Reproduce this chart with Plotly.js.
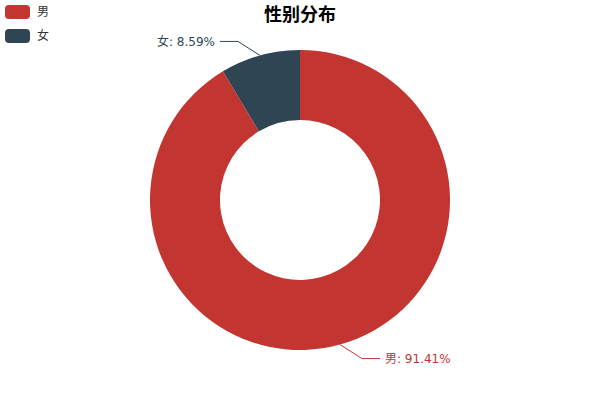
<!DOCTYPE html>
<html>
<head>
<meta charset="utf-8">
<script src="https://cdn.plot.ly/plotly-3.0.1.min.js"></script>
<style>
  body { margin: 0; }
  #chart { width: 600px; height: 400px; }
</style>
</head>
<body>
<div id="chart"></div>
<script>
// Data
var labels = ["男", "女"];
var values = [91.41, 8.59];
var colors = ["#c23531", "#2f4554"];
var labelColors = ["#c23531", "#2f4554"];
var chartTitle = "性别分布";

var W = 600, H = 400;
var cx = 300, cy = 200, rOuter = 150, rInner = 80;
var font = "'DejaVu Sans', 'Noto Sans CJK SC', sans-serif";

// pixel -> paper (margins are 0)
function px(x) { return x / W; }
function py(y) { return 1 - y / H; }

var shapes = [];
var annotations = [];

// legend drawn by hand to get the rounded icons
function roundRect(x, y, w, h, r) {
    return "M" + px(x + r) + "," + py(y) +
        " L" + px(x + w - r) + "," + py(y) +
        " Q" + px(x + w) + "," + py(y) + " " + px(x + w) + "," + py(y + r) +
        " L" + px(x + w) + "," + py(y + h - r) +
        " Q" + px(x + w) + "," + py(y + h) + " " + px(x + w - r) + "," + py(y + h) +
        " L" + px(x + r) + "," + py(y + h) +
        " Q" + px(x) + "," + py(y + h) + " " + px(x) + "," + py(y + h - r) +
        " L" + px(x) + "," + py(y + r) +
        " Q" + px(x) + "," + py(y) + " " + px(x + r) + "," + py(y) + " Z";
}
for (var i = 0; i < labels.length; i++) {
    var itemTop = 5 + i * 24;
    shapes.push({
        type: "path", xref: "paper", yref: "paper",
        path: roundRect(5, itemTop, 25, 14, 4),
        fillcolor: colors[i], line: { width: 0 }
    });
    annotations.push({
        xref: "paper", yref: "paper", x: px(35), y: py(itemTop + 7),
        xanchor: "left", yanchor: "middle", showarrow: false,
        text: labels[i], font: { family: font, size: 12, color: "#333" }
    });
}

// outside labels with elbow lines, placed from the slice mid angles
var total = values.reduce(function (a, b) { return a + b; }, 0);
var acc = 0;
for (var i = 0; i < values.length; i++) {
    var mid = (acc + values[i] / 2) / total * 2 * Math.PI;
    acc += values[i];
    var dx = Math.sin(mid), dy = -Math.cos(mid);
    var ex = cx + rOuter * dx, ey = cy + rOuter * dy;
    var sx = dx < 0 ? -1 : 1, sy = dy < 0 ? -1 : 1;
    var kx = ex + sx * 22, ky = ey + sy * 14;
    var lx = kx + sx * 18;
    shapes.push({
        type: "path", xref: "paper", yref: "paper",
        path: "M" + px(ex) + "," + py(ey) + " L" + px(kx) + "," + py(ky) + " L" + px(lx) + "," + py(ky),
        line: { color: colors[i], width: 1 }
    });
    var pct = (values[i] / total * 100).toFixed(2) + "%";
    annotations.push({
        xref: "paper", yref: "paper", x: px(lx + sx * 3), y: py(ky),
        xanchor: sx < 0 ? "right" : "left", yanchor: "middle", showarrow: false,
        text: labels[i] + ": " + pct, font: { family: font, size: 12, color: labelColors[i] }
    });
}

var trace = {
    type: "pie",
    labels: labels,
    values: values,
    hole: rInner / rOuter,
    sort: false,
    direction: "clockwise",
    rotation: 0,
    marker: { colors: colors, line: { width: 0 } },
    textinfo: "none",
    hoverinfo: "label+percent",
    domain: { x: [px(cx - rOuter), px(cx + rOuter)], y: [py(cy + rOuter), py(cy - rOuter)] }
};

var layout = {
    width: W, height: H,
    margin: { t: 0, l: 0, r: 0, b: 0 },
    paper_bgcolor: "#fff",
    showlegend: false,
    title: {
        text: "<b>" + chartTitle + "</b>",
        font: { family: font, size: 18, color: "#000" },
        x: 0.5, xanchor: "center", y: py(15), yanchor: "middle"
    },
    shapes: shapes,
    annotations: annotations
};

Plotly.newPlot("chart", [trace], layout, { displayModeBar: false, staticPlot: true });
</script>
</body>
</html>
